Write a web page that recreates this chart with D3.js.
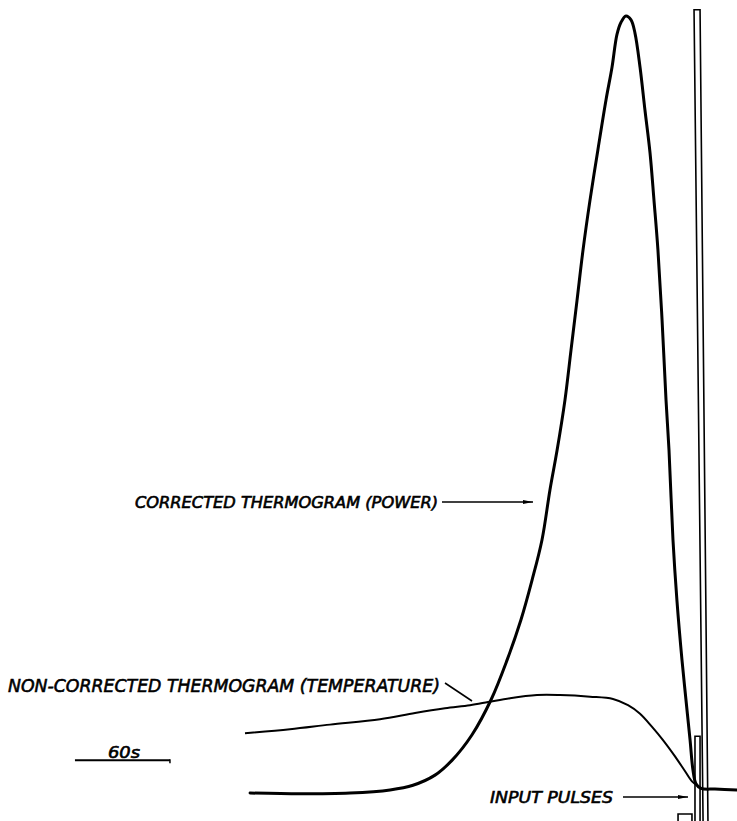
<!DOCTYPE html>
<html>
<head>
<meta charset="utf-8">
<script src="https://cdn.jsdelivr.net/npm/d3@7"></script>
<style>
  html, body { margin: 0; padding: 0; background: #fff; }
  svg { display: block; }
  text { font-family: 'DejaVu Sans', sans-serif; font-style: italic; fill: #000; stroke: #000; stroke-width: 0.6; }
</style>
</head>
<body>
<div id="chart"></div>
<script>
// time in seconds (0 = start of the temperature trace), signal in arbitrary units (peak power = 100)
const POWER_TIME = [3.2, 34.7, 66.3, 91.6, 106.1, 120.0, 130.7, 143.4, 155.4, 165.5, 174.3, 181.3, 187.6, 192.6, 197.1, 202.1, 205.9, 209.7, 213.5, 217.9, 222.9, 228.0, 231.8, 234.9, 237.5, 240.6, 243.8, 246.3, 249.5, 252.6, 255.8, 258.3, 260.8, 263.4, 265.9, 267.8, 270.3, 272.8, 276.0, 278.5, 281.1, 282.9, 284.8, 288.0, 296.8, 310.7]
const POWER_VALUES = [0, -0.1, 0, 0.4, 1.0, 2.3, 4.2, 7.5, 12.0, 17.1, 22.3, 27.4, 32.6, 39.0, 44.1, 50.6, 57.0, 63.4, 69.9, 76.3, 82.8, 89.2, 93.4, 97.6, 99.2, 100, 99.5, 97.8, 93.4, 87.9, 82.4, 76.3, 69.9, 60.9, 50.6, 44.1, 32.6, 24.8, 17.1, 12.0, 6.8, 3.0, 1.2, 0.6, 0.5, 0.4]

const TEMP_TIME = [0, 28.4, 53.7, 85.3, 107.4, 126.3, 142.1, 153.5, 167.4, 184.4, 198.9, 217.9, 232.4, 241.9, 249.5, 257.1, 264.0, 270.9, 277.3, 282.3, 286.1]
const TEMP_VALUES = [7.7, 8.2, 8.8, 9.5, 10.3, 10.9, 11.3, 11.7, 12.2, 12.6, 12.6, 12.4, 12.1, 11.3, 10.2, 8.5, 6.8, 4.9, 3.0, 1.5, 0.9]

// input pulse traces: [time, signal] outlines
const PULSE_TRACES = [
  [[289.3, -3.6], [283.6, 100.8], [287.4, 100.8], [292.4, -3.6]],
  [[284.2, -3.6], [284.2, 7.3], [287.4, 7.3], [287.4, -3.6]],
  [[273.5, -3.6], [273.5, -2.7], [282.3, -2.7], [282.3, -3.6]]
]

const SCALE_BAR = { start: -107.4, length: 60, level: 4.2, label: '60s' }

const LABELS = [
  { text: 'CORRECTED THERMOGRAM (POWER)', x: 135, y: 508, size: 15, len: 303 },
  { text: 'NON-CORRECTED THERMOGRAM (TEMPERATURE)', x: 8, y: 692, size: 18, len: 432 },
  { text: 'INPUT PULSES', x: 490, y: 803, size: 16, len: 123 }
]

const POINTERS = [
  { x1: 442, y1: 502, x2: 533, y2: 502, head: true },
  { x1: 445, y1: 683, x2: 472, y2: 701, head: false },
  { x1: 623, y1: 797, x2: 688, y2: 797, head: true }
]

const SIZE = Object.freeze({ WIDTH: 737, HEIGHT: 821 })

const xScale = d3.scaleLinear()
  .domain([0, 60])
  .range([245, 340])

const yScale = d3.scaleLinear()
  .domain([0, 100])
  .range([793, 16])

const svg = d3.select('#chart')
  .append('svg')
  .attr('width', SIZE.WIDTH)
  .attr('height', SIZE.HEIGHT)

svg.append('rect')
  .attr('width', SIZE.WIDTH)
  .attr('height', SIZE.HEIGHT)
  .attr('fill', '#fff')

const trace = d3.line()
  .x(d => xScale(d[0]))
  .y(d => yScale(d[1]))
  .curve(d3.curveCatmullRom.alpha(0.5))

const straight = d3.line()
  .x(d => xScale(d[0]))
  .y(d => yScale(d[1]))

// pulses
svg.selectAll('path.pulse')
  .data(PULSE_TRACES)
  .enter()
  .append('path')
  .attr('class', 'pulse')
  .attr('d', straight)
  .attr('fill', 'none')
  .attr('stroke', '#000')
  .attr('stroke-width', 1.6)

svg.append('path')
  .datum(d3.zip(TEMP_TIME, TEMP_VALUES))
  .attr('d', trace)
  .attr('fill', 'none')
  .attr('stroke', '#000')
  .attr('stroke-width', 2)
  .attr('stroke-linejoin', 'round')

svg.append('path')
  .datum(d3.zip(POWER_TIME, POWER_VALUES))
  .attr('d', trace)
  .attr('fill', 'none')
  .attr('stroke', '#000')
  .attr('stroke-width', 3)
  .attr('stroke-linejoin', 'round')
  .attr('stroke-linecap', 'round')

// scale bar
const barY = yScale(SCALE_BAR.level)
svg.append('line')
  .attr('x1', xScale(SCALE_BAR.start))
  .attr('x2', xScale(SCALE_BAR.start + SCALE_BAR.length))
  .attr('y1', barY)
  .attr('y2', barY)
  .attr('stroke', '#000')
  .attr('stroke-width', 2)
svg.append('line')
  .attr('x1', xScale(SCALE_BAR.start + SCALE_BAR.length))
  .attr('x2', xScale(SCALE_BAR.start + SCALE_BAR.length))
  .attr('y1', barY - 1)
  .attr('y2', barY + 3)
  .attr('stroke', '#000')
  .attr('stroke-width', 1.5)
svg.append('text')
  .attr('x', 108)
  .attr('y', barY - 2)
  .attr('font-size', 15)
  .attr('textLength', 32)
  .attr('lengthAdjust', 'spacingAndGlyphs')
  .text(SCALE_BAR.label)

// labels and pointer lines
svg.selectAll('text.label')
  .data(LABELS)
  .enter()
  .append('text')
  .attr('class', 'label')
  .attr('x', d => d.x)
  .attr('y', d => d.y)
  .attr('font-size', d => d.size)
  .attr('textLength', d => d.len)
  .attr('lengthAdjust', 'spacingAndGlyphs')
  .text(d => d.text)

svg.selectAll('line.pointer')
  .data(POINTERS)
  .enter()
  .append('line')
  .attr('class', 'pointer')
  .attr('x1', d => d.x1)
  .attr('y1', d => d.y1)
  .attr('x2', d => d.x2)
  .attr('y2', d => d.y2)
  .attr('stroke', '#000')
  .attr('stroke-width', 1.6)

svg.selectAll('path.head')
  .data(POINTERS.filter(d => d.head))
  .enter()
  .append('path')
  .attr('class', 'head')
  .attr('d', d => `M${d.x2},${d.y2} L${d.x2 - 10},${d.y2 - 2} L${d.x2 - 10},${d.y2 + 2} Z`)
  .attr('fill', '#000')
</script>
</body>
</html>
